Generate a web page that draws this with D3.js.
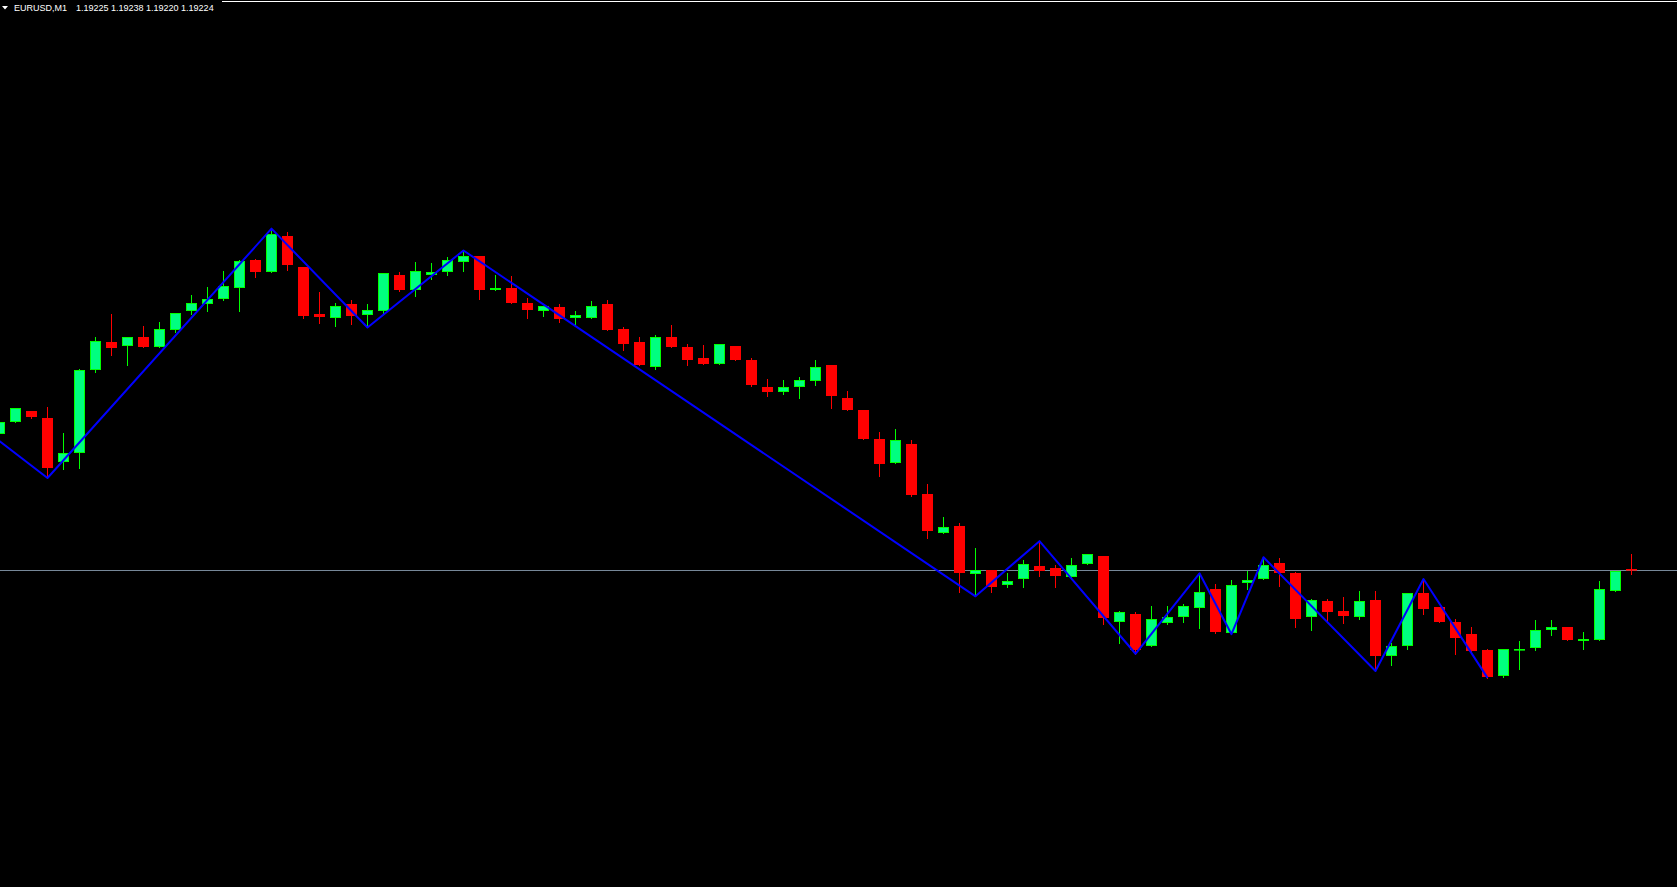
<!DOCTYPE html>
<html>
<head>
<meta charset="utf-8">
<script src="https://cdn.jsdelivr.net/npm/d3@7"></script>
<style>
    html, body { margin: 0; padding: 0; background: #000; overflow: hidden; }
</style>
</head>
<body>
<div id="chart"></div>
<script>

// EURUSD M1 bars, oldest first
var open = [1.19342,1.19353,1.19362,1.19356,1.19318,1.19326,1.19398,1.19422,1.19419,1.19427,
    1.19418,1.19433,1.19449,1.19455,1.19460,1.19469,1.19494,1.19483,1.19515,1.19488,
    1.19447,1.19443,1.19455,1.19446,1.19449,1.19481,1.19468,1.19481,1.19483,1.19492,
    1.19497,1.19468,1.19469,1.19456,1.19449,1.19453,1.19443,1.19443,1.19455,1.19434,
    1.19422,1.19401,1.19427,1.19418,1.19408,1.19403,1.19419,1.19407,1.19383,1.19379,
    1.19383,1.19388,1.19402,1.19374,1.19363,1.19338,1.19317,1.19334,1.19290,1.19256,
    1.19262,1.19220,1.19224,1.19211,1.19216,1.19227,1.19226,1.19218,1.19229,1.19236,
    1.19179,1.19186,1.19158,1.19178,1.19183,1.19191,1.19207,1.19169,1.19213,1.19216,
    1.19230,1.19221,1.19183,1.19197,1.19188,1.19183,1.19198,1.19149,1.19158,1.19204,
    1.19192,1.19179,1.19168,1.19154,1.19132,1.19154,1.19156,1.19172,1.19174,1.19162,
    1.19163,1.19206,1.19225];

var high = [1.19354,1.19365,1.19362,1.19366,1.19343,1.19399,1.19427,1.19447,1.19427,1.19436,
    1.19440,1.19448,1.19463,1.19470,1.19484,1.19494,1.19495,1.19521,1.19518,1.19488,
    1.19466,1.19456,1.19459,1.19455,1.19482,1.19483,1.19492,1.19491,1.19496,1.19502,
    1.19497,1.19481,1.19480,1.19461,1.19454,1.19455,1.19449,1.19458,1.19459,1.19435,
    1.19427,1.19428,1.19437,1.19421,1.19420,1.19421,1.19419,1.19408,1.19390,1.19389,
    1.19392,1.19407,1.19402,1.19380,1.19363,1.19344,1.19347,1.19337,1.19299,1.19270,
    1.19265,1.19243,1.19224,1.19221,1.19233,1.19249,1.19228,1.19234,1.19238,1.19236,
    1.19188,1.19187,1.19193,1.19193,1.19194,1.19221,1.19212,1.19215,1.19223,1.19235,
    1.19234,1.19222,1.19199,1.19199,1.19200,1.19206,1.19206,1.19160,1.19204,1.19216,
    1.19192,1.19181,1.19174,1.19155,1.19155,1.19162,1.19180,1.19180,1.19174,1.19170,
    1.19214,1.19223,1.19238];

var low = [1.19341,1.19353,1.19356,1.19304,1.19312,1.19313,1.19396,1.19411,1.19402,1.19418,
    1.19418,1.19431,1.19447,1.19449,1.19459,1.19449,1.19479,1.19483,1.19485,1.19443,
    1.19439,1.19436,1.19438,1.19435,1.19448,1.19467,1.19462,1.19477,1.19481,1.19484,
    1.19460,1.19468,1.19456,1.19443,1.19445,1.19440,1.19438,1.19443,1.19433,1.19415,
    1.19402,1.19399,1.19418,1.19402,1.19403,1.19403,1.19407,1.19384,1.19375,1.19377,
    1.19374,1.19385,1.19365,1.19363,1.19338,1.19306,1.19317,1.19288,1.19252,1.19256,
    1.19205,1.19201,1.19205,1.19209,1.19209,1.19219,1.19209,1.19218,1.19229,1.19177,
    1.19160,1.19151,1.19158,1.19177,1.19179,1.19173,1.19169,1.19168,1.19207,1.19216,
    1.19210,1.19174,1.19172,1.19179,1.19178,1.19181,1.19136,1.19141,1.19155,1.19186,
    1.19179,1.19151,1.19152,1.19130,1.19131,1.19138,1.19154,1.19167,1.19163,1.19155,
    1.19163,1.19206,1.19220];

var close = [1.19353,1.19365,1.19357,1.19313,1.19326,1.19398,1.19423,1.19417,1.19427,1.19418,
    1.19434,1.19448,1.19456,1.19460,1.19471,1.19493,1.19483,1.19516,1.19489,1.19445,
    1.19444,1.19454,1.19445,1.19450,1.19482,1.19468,1.19484,1.19483,1.19494,1.19497,
    1.19468,1.19469,1.19456,1.19450,1.19454,1.19442,1.19446,1.19454,1.19433,1.19421,
    1.19402,1.19427,1.19418,1.19407,1.19403,1.19421,1.19407,1.19385,1.19379,1.19383,
    1.19389,1.19401,1.19375,1.19363,1.19338,1.19316,1.19337,1.19289,1.19258,1.19261,
    1.19221,1.19224,1.19209,1.19214,1.19229,1.19223,1.19219,1.19228,1.19238,1.19182,
    1.19187,1.19154,1.19181,1.19183,1.19193,1.19205,1.19170,1.19211,1.19215,1.19228,
    1.19221,1.19181,1.19198,1.19187,1.19184,1.19197,1.19149,1.19158,1.19204,1.19190,
    1.19179,1.19165,1.19153,1.19131,1.19155,1.19155,1.19172,1.19174,1.19163,1.19164,
    1.19207,1.19223,1.19224];

// zigzag pivots (bar index, price) - first one is off the left edge
var zzBars = [-4, 3, 17, 23, 29, 61, 65, 71, 75, 77, 79, 86, 89, 93];
var zzPrices = [1.19379, 1.19304, 1.19521, 1.19435, 1.19502, 1.19201, 1.19249,
    1.19151, 1.19221, 1.19168, 1.19235, 1.19136, 1.19216, 1.19130];

var symbol = "EURUSD,M1";
var bid = close[close.length - 1];
var quote = [open, high, low, close].map(function (a) { return a[a.length - 1].toFixed(5); }).join(" ");

var width = 1677, height = 887;
var barStep = 16, bodyHalf = 5;

var svg = d3.select("#chart")
    .append("svg")
    .attr("width", width)
    .attr("height", height)
    .style("display", "block")
    .style("background", "#000");

// bar index -> centre pixel
var x = d3.scaleLinear()
    .domain([0, open.length - 1])
    .range([-0.5, -0.5 + barStep * (open.length - 1)]);

// price -> pixel (fixed chart scale)
var y = d3.scaleLinear()
    .domain([1.18948, 1.19720])
    .range([height, 0]);

function py(v) { return Math.round(y(v)); }

var bars = d3.range(open.length).map(function (i) {
    return { i: i, o: open[i], h: high[i], l: low[i], c: close[i], up: close[i] >= open[i] };
});

// top border
svg.append("line")
    .attr("x1", 0).attr("x2", width)
    .attr("y1", 1.5).attr("y2", 1.5)
    .style("stroke", "#fff")
    .style("stroke-width", 1);

// bid line
svg.append("line")
    .attr("x1", 0).attr("x2", width)
    .attr("y1", py(bid) + 0.5).attr("y2", py(bid) + 0.5)
    .style("stroke", "#778899")
    .style("stroke-width", 1);

var candles = svg.append("g").selectAll("g")
    .data(bars)
    .enter().append("g");

// wicks
candles.append("line")
    .attr("x1", function (d) { return x(d.i); })
    .attr("x2", function (d) { return x(d.i); })
    .attr("y1", function (d) { return py(d.h); })
    .attr("y2", function (d) { return py(d.l) + 1; })
    .style("stroke", function (d) { return d.up ? "#00ff00" : "#ff0000"; })
    .style("stroke-width", 1);

// bodies (a flat body still shows as a short bar)
candles.append("rect")
    .attr("x", function (d) { return x(d.i) - bodyHalf; })
    .attr("y", function (d) { return py(Math.max(d.o, d.c)) + 0.5; })
    .attr("width", bodyHalf * 2)
    .attr("height", function (d) {
        return Math.max(py(Math.min(d.o, d.c)) - py(Math.max(d.o, d.c)) - 1, 0.6);
    })
    .style("fill", function (d) { return d.up ? "#00ff7f" : "#ff0000"; })
    .style("stroke", function (d) { return d.up ? "#00ff00" : "#ff0000"; })
    .style("stroke-width", 1);

// zigzag
var zz = zzBars.map(function (b, i) { return [x(b), y(zzPrices[i])]; });
svg.append("path")
    .attr("d", d3.line()(zz))
    .style("fill", "none")
    .style("stroke", "#0000ff")
    .style("stroke-width", 2)
    .style("stroke-linejoin", "round");

// title box
var title = svg.append("g");
title.append("rect")
    .attr("x", 0).attr("y", 0)
    .attr("width", 222).attr("height", 15)
    .style("fill", "#000");
title.append("path")
    .attr("d", "M2,6 L8,6 L5,9.5 Z")
    .style("fill", "#fff");
title.append("text")
    .attr("x", 14).attr("y", 11)
    .style("font-family", "'Liberation Sans', Arial, sans-serif")
    .style("font-size", "9px")
    .style("fill", "#fff")
    .text(symbol);
title.append("text")
    .attr("x", 76).attr("y", 11)
    .style("font-family", "'Liberation Sans', Arial, sans-serif")
    .style("font-size", "9px")
    .style("fill", "#fff")
    .text(quote);

</script>
</body>
</html>
